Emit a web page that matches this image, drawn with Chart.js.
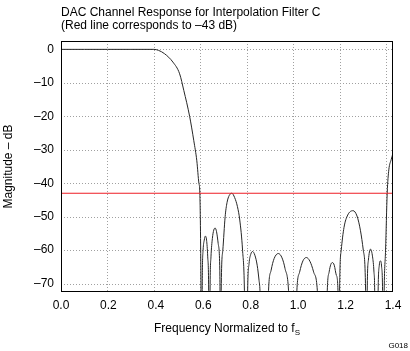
<!DOCTYPE html>
<html>
<head>
<meta charset="utf-8">
<script src="https://cdn.jsdelivr.net/npm/chart.js@4.4.1/dist/chart.umd.min.js"></script>
<style>
  html, body { margin: 0; padding: 0; background: #fff; }
  #wrap { width: 410px; height: 351px; }
</style>
</head>
<body>
<div id="wrap"><canvas id="filterChart" width="410" height="351"></canvas></div>
<script>
// frequency (normalized to fS) and magnitude (dB)
const freqs = [
  0, 0.1, 0.2, 0.3, 0.4, 0.42, 0.446, 0.482, 0.511, 0.529, 0.554, 0.572, 0.585, 0.594, 0.598, 0.603, 0.605,
  0.609, 0.612, 0.617, 0.622, 0.627, 0.632, 0.636, 0.638,
  0.640, 0.642, 0.646, 0.652, 0.658, 0.664, 0.670, 0.677, 0.684, 0.688,
  0.690, 0.697, 0.707, 0.715, 0.725, 0.736, 0.748, 0.760, 0.770, 0.782, 0.790, 0.795,
  0.800, 0.804, 0.810, 0.817, 0.825, 0.835, 0.845, 0.853, 0.857, 0.870,
  0.885, 0.894, 0.905, 0.918, 0.936, 0.952, 0.965, 0.980, 0.995,
  1.005, 1.016, 1.028, 1.042, 1.057, 1.072, 1.088, 1.104, 1.120,
  1.140, 1.147, 1.155, 1.162, 1.169, 1.177, 1.186, 1.193, 1.196,
  1.198, 1.200, 1.207, 1.219, 1.235, 1.258, 1.275, 1.290, 1.302, 1.312, 1.315,
  1.317, 1.319, 1.324, 1.333, 1.342, 1.348, 1.351, 1.354,
  1.362, 1.366, 1.371, 1.376, 1.381, 1.385, 1.388,
  1.392, 1.398, 1.405, 1.412, 1.422, 1.430
];
const magnitudes = [
  0, 0, 0, 0, 0, -0.3, -1.3, -3.8, -7.3, -12.3, -20, -27.3, -33.3, -40, -43, -72, -100,
  -66, -60, -57, -55.8, -57, -62, -72, -100,
  -100, -72, -62, -56.5, -54, -53.4, -54.5, -58, -66, -100,
  -72, -60, -50, -45.8, -43.6, -43, -44.3, -47, -51, -60, -72, -100,
  -100, -72, -64, -61.3, -60.4, -61.5, -64.5, -69, -72, -100,
  -100, -72, -66, -62.5, -61, -62.3, -65.5, -72, -100,
  -100, -72, -66.5, -63.2, -62.2, -63.3, -66.5, -72, -100,
  -100, -72, -66.5, -64.3, -63.7, -64.5, -67.5, -72, -100,
  -100, -72, -60, -53.2, -49.5, -48.2, -49.8, -54.2, -60, -72, -100,
  -100, -72, -63, -59.7, -62, -66.5, -72, -100,
  -100, -72, -64.5, -63.2, -65, -72, -100,
  -72, -60, -43, -36, -33, -31
];
const limitFreqs = [0, 1.43];
const limitDb = [-43, -43];

const xTicks = [0, 0.2, 0.4, 0.6, 0.8, 1.0, 1.2, 1.4];
const yTicks = [0, -10, -20, -30, -40, -50, -60, -70];

const fontFamily = '"Liberation Sans", Arial, Helvetica, sans-serif';

const curvePoints = freqs.map((f, i) => ({ x: f, y: magnitudes[i] }));
const limitPoints = limitFreqs.map((f, i) => ({ x: f, y: limitDb[i] }));

// dotted grid, drawn under the curves
const dottedGrid = {
  id: 'dottedGrid',
  beforeDatasetsDraw(chart) {
    const c = chart.ctx;
    const a = chart.chartArea;
    const xs = chart.scales.x;
    const ys = chart.scales.y;
    c.save();
    c.strokeStyle = '#a0a0a0';
    c.lineWidth = 1;
    c.setLineDash([1, 2]);
    xTicks.forEach(v => {
      const px = Math.round(xs.getPixelForValue(v)) + 0.5;
      c.beginPath();
      c.moveTo(px, a.top);
      c.lineTo(px, a.bottom);
      c.stroke();
    });
    yTicks.forEach(v => {
      const py = Math.round(ys.getPixelForValue(v)) + 0.5;
      c.beginPath();
      c.moveTo(a.left, py);
      c.lineTo(a.right, py);
      c.stroke();
    });
    c.restore();
  }
};

// frame + texts that chart.js can't place the way the original does
const decorations = {
  id: 'decorations',
  afterDraw(chart) {
    const c = chart.ctx;
    const a = chart.chartArea;
    c.save();
    c.strokeStyle = '#000';
    c.lineWidth = 1;
    c.strokeRect(Math.round(a.left) + 0.5, Math.round(a.top) + 0.5,
      Math.round(a.right - a.left) - 1, Math.round(a.bottom - a.top) - 1);

    c.fillStyle = '#000';
    c.textBaseline = 'alphabetic';
    c.textAlign = 'left';
    c.font = '12px ' + fontFamily;
    c.fillText('DAC Channel Response for Interpolation Filter C', 61, 15.5);
    c.fillText('(Red line corresponds to \u201343 dB)', 61, 29);

    // x title with subscript S
    const main = 'Frequency Normalized to f';
    c.font = '12px ' + fontFamily;
    const w1 = c.measureText(main).width;
    c.font = '8px ' + fontFamily;
    const w2 = c.measureText('S').width;
    const x0 = 227 - (w1 + w2) / 2;
    c.font = '12px ' + fontFamily;
    c.fillText(main, x0, 332);
    c.font = '8px ' + fontFamily;
    c.fillText('S', x0 + w1, 335);

    // y title
    c.save();
    c.translate(12, 166.5);
    c.rotate(-Math.PI / 2);
    c.textAlign = 'center';
    c.font = '12px ' + fontFamily;
    c.fillText('Magnitude \u2013 dB', 0, 0);
    c.restore();

    c.textAlign = 'right';
    c.font = '8px ' + fontFamily;
    c.fillText('G018', 408, 348);
    c.restore();
  }
};

const ctx = document.getElementById('filterChart').getContext('2d');

new Chart(ctx, {
  type: 'line',
  data: {
    datasets: [
      {
        label: 'Response',
        data: curvePoints,
        borderColor: '#262626',
        borderWidth: 1,
        pointRadius: 0,
        cubicInterpolationMode: 'monotone',
        fill: false,
        order: 2
      },
      {
        label: 'Limit',
        data: limitPoints,
        borderColor: '#ee1c25',
        borderWidth: 1.2,
        pointRadius: 0,
        fill: false,
        order: 1
      }
    ]
  },
  options: {
    responsive: false,
    animation: false,
    events: [],
    layout: { padding: { left: 0, right: 17, top: 41, bottom: 0 } },
    plugins: {
      legend: { display: false },
      tooltip: { enabled: false },
      title: { display: false }
    },
    scales: {
      // grid axis (the plot runs a little past 1.4)
      x: {
        type: 'linear',
        position: 'bottom',
        min: 0,
        max: 1.43,
        afterFit(scale) { scale.height = 0; },
        afterBuildTicks(scale) { scale.ticks = xTicks.map(v => ({ value: v })); },
        ticks: { display: false },
        grid: { display: false, drawTicks: false },
        border: { display: false }
      },
      // label axis, spread over the full frame width like the original
      xl: {
        type: 'linear',
        position: 'bottom',
        min: 0,
        max: 1.4,
        afterFit(scale) { scale.height = 59; },
        afterBuildTicks(scale) { scale.ticks = xTicks.map(v => ({ value: v })); },
        ticks: {
          padding: 6,
          color: '#000',
          font: { family: fontFamily, size: 12 },
          callback: v => Number(v).toFixed(1)
        },
        grid: { display: false, drawTicks: false },
        border: { display: false }
      },
      y: {
        type: 'linear',
        min: -72.5,
        max: 2.5,
        afterFit(scale) { scale.width = 61; },
        afterBuildTicks(scale) { scale.ticks = yTicks.map(v => ({ value: v })); },
        ticks: {
          padding: 7,
          color: '#000',
          font: { family: fontFamily, size: 12 },
          callback: v => (v < 0 ? '\u2013' + Math.abs(v) : String(v))
        },
        grid: { display: false, drawTicks: false },
        border: { display: false }
      }
    }
  },
  plugins: [dottedGrid, decorations]
});
</script>
</body>
</html>
